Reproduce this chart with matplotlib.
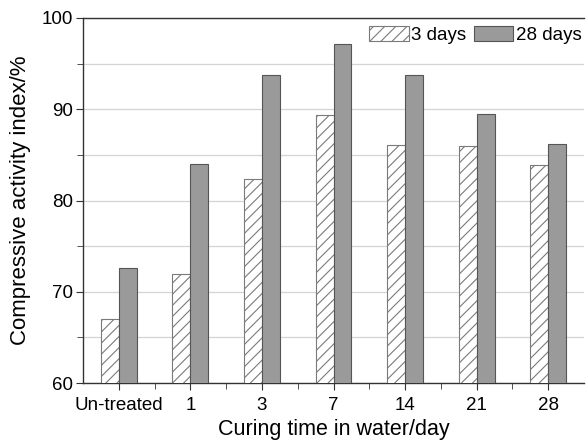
import matplotlib.pyplot as plt
import numpy as np
from matplotlib.ticker import MultipleLocator, FixedLocator

plt.rcParams['font.family'] = ['Liberation Sans', 'DejaVu Sans']
plt.rcParams['hatch.color'] = '#8a8a8a'
plt.rcParams['hatch.linewidth'] = 0.8

categories = ['Un-treated', '1', '3', '7', '14', '21', '28']
days_3 = [67.0, 72.0, 82.4, 89.4, 86.1, 86.0, 83.9]
days_28 = [72.6, 84.0, 93.8, 97.1, 93.8, 89.5, 86.2]

fig = plt.figure(figsize=(5.88, 4.44), dpi=100)
W, H = 588, 444
ax = fig.add_axes([83 / W, 1 - 383 / H, (584 - 83) / W, (383 - 18) / H])

x = np.arange(len(categories))
w = 0.25
ax.bar(x - w / 2, days_3, w, color='white', edgecolor='#7a7a7a',
       hatch='///', linewidth=0.8, label='3 days', zorder=3)
ax.bar(x + w / 2, days_28, w, color='#9a9a9a', edgecolor='#555555',
       linewidth=0.8, label='28 days', zorder=3)

ax.set_xlim(-0.5, len(categories) - 0.5)
ax.set_ylim(60, 100)
ax.set_xticks(x)
ax.set_xticklabels(categories)
ax.xaxis.set_minor_locator(FixedLocator(x[:-1] + 0.5))
ax.yaxis.set_major_locator(MultipleLocator(10))
ax.yaxis.set_minor_locator(MultipleLocator(5))
ax.grid(True, which='both', axis='y', color='#d4d4d4', linewidth=0.9, zorder=0)

for s in ['left', 'bottom', 'top']:
    ax.spines[s].set_color('#333333')
    ax.spines[s].set_linewidth(1.0)
ax.spines['right'].set_visible(False)
ax.tick_params(axis='both', which='major', labelsize=13.5, length=5, color='#333333', pad=2)
ax.tick_params(axis='x', which='major', pad=5)
ax.tick_params(axis='both', which='minor', length=4, color='#333333')

ax.set_xlabel('Curing time in water/day', fontsize=15.5, labelpad=4)
ax.set_ylabel('Compressive activity index/%', fontsize=16, labelpad=8)

fig.legend(loc='upper right', bbox_to_anchor=(582 / W, 1 - 26 / H), ncol=2, frameon=False,
           fontsize=13.5, handlelength=2.1, handleheight=0.85, handletextpad=0.15,
           columnspacing=0.4, borderaxespad=0, borderpad=0)

fig.savefig('out.png', dpi=100)
